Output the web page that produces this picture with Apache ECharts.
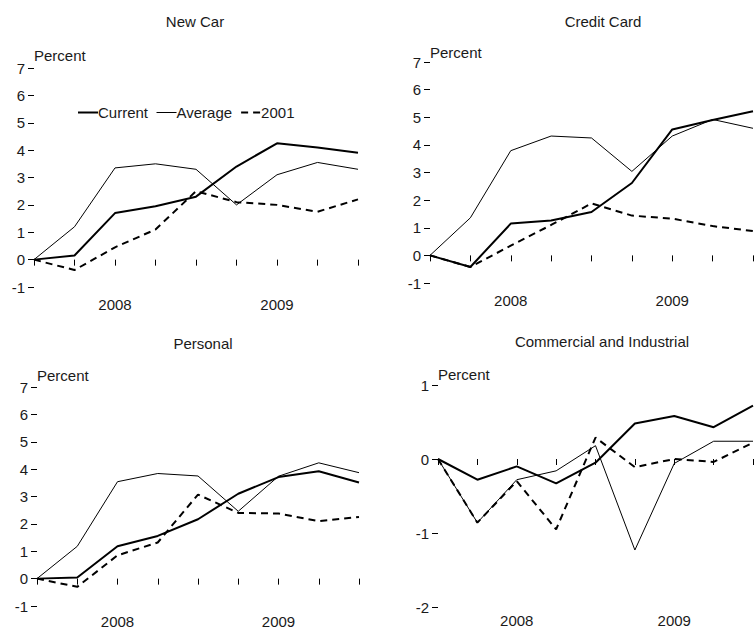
<!DOCTYPE html>
<html>
<head>
<meta charset="utf-8">
<script src="https://cdn.jsdelivr.net/npm/echarts@6/dist/echarts.min.js"></script>
<style>
html,body{margin:0;padding:0;background:#fff;}
#chart{width:756px;height:634px;}
</style>
</head>
<body>
<div id="chart"></div>
<script>
// Quarters (x categories) and the tick labels shown under them
var quarters = ['2007Q3','2007Q4','2008Q1','2008Q2','2008Q3','2008Q4','2009Q1','2009Q2','2009Q3'];
var tickLabels = ['', '', '2008', '', '', '', '2009', '', ''];

var panelTitles = ['New Car', 'Credit Card', 'Personal', 'Commercial and Industrial'];
var seriesNames = ['Current', 'Average', '2001'];

// New Car
var newCarCurrent = [0, 0.15, 1.7, 1.95, 2.3, 3.4, 4.25, 4.1, 3.9];
var newCarAverage = [0, 1.2, 3.35, 3.5, 3.3, 2.0, 3.1, 3.55, 3.3];
var newCar2001    = [0, -0.38, 0.45, 1.1, 2.5, 2.1, 2.0, 1.75, 2.2];

// Credit Card
var creditCurrent = [0, -0.42, 1.15, 1.26, 1.57, 2.62, 4.56, 4.9, 5.22];
var creditAverage = [0, 1.36, 3.79, 4.32, 4.25, 3.04, 4.32, 4.92, 4.6];
var credit2001    = [0, -0.42, 0.35, 1.1, 1.88, 1.44, 1.33, 1.06, 0.88];

// Personal
var personalCurrent = [0, 0.04, 1.18, 1.56, 2.17, 3.1, 3.71, 3.92, 3.51];
var personalAverage = [0, 1.18, 3.54, 3.84, 3.75, 2.46, 3.74, 4.23, 3.87];
var personal2001    = [0, -0.3, 0.85, 1.32, 3.07, 2.4, 2.38, 2.1, 2.25];

// Commercial and Industrial
var ciCurrent = [0, -0.28, -0.1, -0.33, -0.05, 0.48, 0.58, 0.43, 0.72];
var ciAverage = [0, -0.86, -0.28, -0.16, 0.18, -1.23, -0.06, 0.24, 0.24];
var ci2001    = [0, -0.86, -0.3, -0.95, 0.29, -0.11, 0.0, -0.04, 0.22];

// y-axis ranges per panel
var yMins = [-1, -1, -1, -2];
var yMaxs = [7, 7, 7, 1];

var panelData = [
  [newCarCurrent, newCarAverage, newCar2001],
  [creditCurrent, creditAverage, credit2001],
  [personalCurrent, personalAverage, personal2001],
  [ciCurrent, ciAverage, ci2001]
];

var FONT = '"Liberation Sans", Arial, sans-serif';
var FS = 15;
var TXT = '#1a1a1a';

var grids = [
  {left: 34, top: 68, width: 324, height: 219},
  {left: 430, top: 62, width: 324, height: 221},
  {left: 37, top: 387, width: 322, height: 219},
  {left: 438, top: 385, width: 324, height: 222}
];
var titlePos = [
  {x: 195, y: 14},
  {x: 603, y: 14},
  {x: 203, y: 336},
  {x: 602, y: 334}
];
var nameGaps = [13, 10, 12, 11];
var xLabelMargins = [10, 10, 8, 6];

var lineStyles = [
  {width: 2, type: 'solid', color: '#000'},
  {width: 1, type: 'solid', color: '#000'},
  {width: 2, type: [7, 5], color: '#000'}
];

var xAxes = [], yAxes = [], series = [], titles = [];
for (var g = 0; g < 4; g++) {
  titles.push({
    text: panelTitles[g],
    left: titlePos[g].x,
    top: titlePos[g].y,
    padding: 0,
    textAlign: 'center',
    textStyle: {fontFamily: FONT, fontSize: FS, fontWeight: 'normal', color: TXT}
  });
  xAxes.push({
    type: 'category',
    gridIndex: g,
    data: quarters,
    boundaryGap: false,
    axisLine: {show: false},
    axisTick: {show: true, interval: 0, length: 6, lineStyle: {color: '#000', width: 1}},
    axisLabel: {
      interval: 0, margin: xLabelMargins[g], color: TXT, fontFamily: FONT, fontSize: FS,
      formatter: function (v, i) { return tickLabels[i]; }
    },
    splitLine: {show: false}
  });
  yAxes.push({
    type: 'value',
    gridIndex: g,
    min: yMins[g],
    max: yMaxs[g],
    interval: 1,
    name: 'Percent',
    nameLocation: 'end',
    nameGap: nameGaps[g],
    nameTextStyle: {align: 'left', verticalAlign: 'middle', color: TXT, fontFamily: FONT, fontSize: FS},
    axisLine: {show: false},
    axisTick: {show: true, length: 6, lineStyle: {color: '#000', width: 1}},
    axisLabel: {margin: 9, color: TXT, fontFamily: FONT, fontSize: FS},
    splitLine: {show: false}
  });
  for (var s = 0; s < 3; s++) {
    series.push({
      name: seriesNames[s],
      type: 'line',
      xAxisIndex: g,
      yAxisIndex: g,
      data: panelData[g][s],
      symbol: 'none',
      lineStyle: lineStyles[s],
      itemStyle: {color: '#000'},
      z: 3 - s,
      animation: false
    });
  }
}

var legendItems = seriesNames.map(function (n, i) {
  return {name: n, lineStyle: {width: lineStyles[i].width, type: lineStyles[i].type, color: '#000'}};
});

var chart = echarts.init(document.getElementById('chart'), null, {renderer: 'svg'});
chart.setOption({
  backgroundColor: '#fff',
  animation: false,
  title: titles,
  legend: {
    data: legendItems,
    left: 77,
    top: 105,
    padding: 0,
    itemWidth: 20,
    itemHeight: 14,
    itemGap: 8,
    itemStyle: {opacity: 0, color: 'transparent', borderWidth: 0},
    textStyle: {fontFamily: FONT, fontSize: FS, color: TXT, padding: [0, 0, 0, -5]}
  },
  grid: grids,
  xAxis: xAxes,
  yAxis: yAxes,
  series: series
});
</script>
</body>
</html>
